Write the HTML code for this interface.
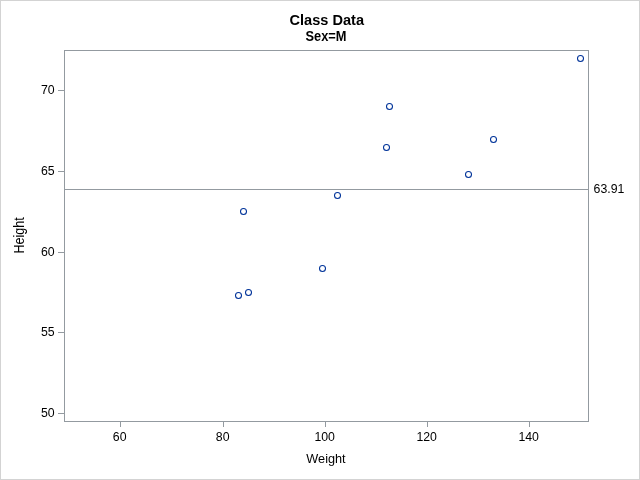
<!DOCTYPE html>
<html><head><meta charset="utf-8"><title>Class Data</title>
<style>
html,body{margin:0;padding:0;background:#fff;}
svg{display:block;}
text{font-family:"Liberation Sans",Arial,sans-serif;fill:#000;}
</style></head><body>
<svg width="640" height="480" viewBox="0 0 640 480">
<rect x="0" y="0" width="640" height="480" fill="#fff"/>
<rect x="0.5" y="0.5" width="639" height="479" fill="none" stroke="#d3d3d3" stroke-width="1"/>
<rect x="64.5" y="50.5" width="524" height="371" fill="#fff" stroke="#939aa0" stroke-width="1"/>

<line x1="58" y1="413.5" x2="64" y2="413.5" stroke="#939aa0"/>
<text x="54.6" y="416.9" font-size="12.3" text-anchor="end">50</text>
<line x1="58" y1="332.5" x2="64" y2="332.5" stroke="#939aa0"/>
<text x="54.6" y="335.9" font-size="12.3" text-anchor="end">55</text>
<line x1="58" y1="252.5" x2="64" y2="252.5" stroke="#939aa0"/>
<text x="54.6" y="255.9" font-size="12.3" text-anchor="end">60</text>
<line x1="58" y1="171.5" x2="64" y2="171.5" stroke="#939aa0"/>
<text x="54.6" y="174.9" font-size="12.3" text-anchor="end">65</text>
<line x1="58" y1="90.5" x2="64" y2="90.5" stroke="#939aa0"/>
<text x="54.6" y="93.9" font-size="12.3" text-anchor="end">70</text>
<line x1="120.5" y1="422" x2="120.5" y2="427" stroke="#939aa0"/>
<text x="119.7" y="441" font-size="12.3" text-anchor="middle">60</text>
<line x1="223.5" y1="422" x2="223.5" y2="427" stroke="#939aa0"/>
<text x="222.7" y="441" font-size="12.3" text-anchor="middle">80</text>
<line x1="325.5" y1="422" x2="325.5" y2="427" stroke="#939aa0"/>
<text x="324.7" y="441" font-size="12.3" text-anchor="middle">100</text>
<line x1="427.5" y1="422" x2="427.5" y2="427" stroke="#939aa0"/>
<text x="426.7" y="441" font-size="12.3" text-anchor="middle">120</text>
<line x1="529.5" y1="422" x2="529.5" y2="427" stroke="#939aa0"/>
<text x="528.7" y="441" font-size="12.3" text-anchor="middle">140</text>
<line x1="65" y1="189.5" x2="588" y2="189.5" stroke="#939aa0"/>
<text x="593.6" y="193" font-size="12.3">63.91</text>
<circle cx="389.5" cy="106.5" r="3" fill="none" stroke="#003399" stroke-width="1.05"/>
<circle cx="337.5" cy="195.5" r="3" fill="none" stroke="#003399" stroke-width="1.05"/>
<circle cx="238.5" cy="295.5" r="3" fill="none" stroke="#003399" stroke-width="1.05"/>
<circle cx="243.5" cy="211.5" r="3" fill="none" stroke="#003399" stroke-width="1.05"/>
<circle cx="322.5" cy="268.5" r="3" fill="none" stroke="#003399" stroke-width="1.05"/>
<circle cx="580.5" cy="58.5" r="3" fill="none" stroke="#003399" stroke-width="1.05"/>
<circle cx="468.5" cy="174.5" r="3" fill="none" stroke="#003399" stroke-width="1.05"/>
<circle cx="493.5" cy="139.5" r="3" fill="none" stroke="#003399" stroke-width="1.05"/>
<circle cx="248.5" cy="292.5" r="3" fill="none" stroke="#003399" stroke-width="1.05"/>
<circle cx="386.5" cy="147.5" r="3" fill="none" stroke="#003399" stroke-width="1.05"/>
<text x="326.8" y="25" font-size="14.8" font-weight="bold" text-anchor="middle" textLength="74.5" lengthAdjust="spacingAndGlyphs">Class Data</text>
<text x="326" y="41" font-size="14.2" font-weight="bold" text-anchor="middle" textLength="41" lengthAdjust="spacingAndGlyphs">Sex=M</text>
<text x="326" y="463" font-size="13.6" text-anchor="middle" textLength="39.3" lengthAdjust="spacingAndGlyphs">Weight</text>
<text transform="translate(24,235.4) rotate(-90)" font-size="14.2" text-anchor="middle" textLength="36.2" lengthAdjust="spacingAndGlyphs">Height</text>
</svg></body></html>
